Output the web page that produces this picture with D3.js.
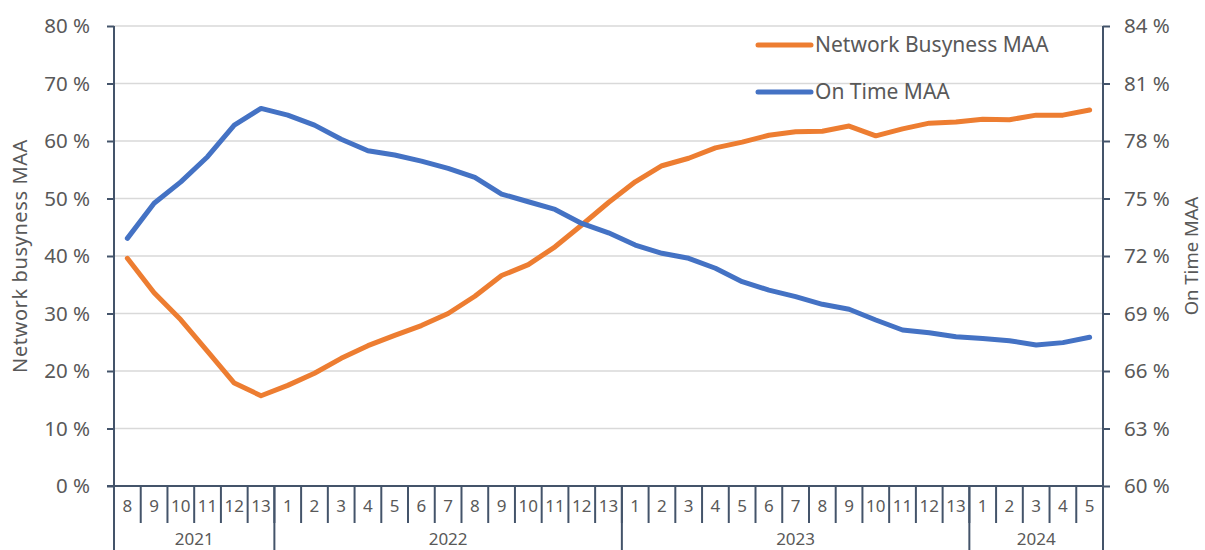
<!DOCTYPE html>
<html>
<head>
<meta charset="utf-8">
<script src="https://cdn.jsdelivr.net/npm/d3@7"></script>
<style>
  body { margin: 0; background: #fff; }
  svg text { font-family: "Noto Sans", "Open Sans", sans-serif; fill: #595959; }
</style>
</head>
<body>
<div id="chart"></div>
<script>
// periods (rail periods 1-13) and years
var periods = ["8","9","10","11","12","13",
  "1","2","3","4","5","6","7","8","9","10","11","12","13",
  "1","2","3","4","5","6","7","8","9","10","11","12","13",
  "1","2","3","4","5"];
var years = ["2021", "2022", "2023", "2024"];
var yearCounts = [6, 13, 13, 5];

// Network busyness MAA (%), left axis
var busyness = [39.6, 33.6, 28.9, 23.4, 17.9, 15.7,
  17.5, 19.6, 22.2, 24.4, 26.2, 27.9, 30.0, 33.0, 36.6, 38.5, 41.6, 45.4, 49.3,
  52.9, 55.7, 57.0, 58.8, 59.8, 61.0, 61.6, 61.7, 62.6, 60.9, 62.1, 63.1, 63.3,
  63.8, 63.7, 64.5, 64.5, 65.4];
// On Time MAA (%), right axis
var onTime = [72.92, 74.75, 75.87, 77.18, 78.83, 79.70,
  79.35, 78.83, 78.09, 77.49, 77.27, 76.95, 76.57, 76.10, 75.23, 74.83, 74.43, 73.70, 73.21,
  72.57, 72.14, 71.88, 71.36, 70.66, 70.22, 69.88, 69.48, 69.22, 68.66, 68.14, 68.00, 67.79,
  67.70, 67.58, 67.36, 67.48, 67.76];

var leftTicks = [0, 10, 20, 30, 40, 50, 60, 70, 80];
var rightTicks = [60, 63, 66, 69, 72, 75, 78, 81, 84];

var W = 1205, H = 550;
var margin = { top: 26, right: 102, bottom: 64, left: 114 };
var x0 = margin.left, x1 = W - margin.right, y0 = H - margin.bottom, y1 = margin.top;
var axisColor = "#44546A";

var svg = d3.select("#chart").append("svg").attr("width", W).attr("height", H);

var idx = d3.range(periods.length);
var x = d3.scaleBand().domain(idx).range([x0, x1]).padding(0);
var yL = d3.scaleLinear().domain([0, 80]).range([y0, y1]);
var yR = d3.scaleLinear().domain([60, 84]).range([y0, y1]);

// gridlines
svg.append("g").selectAll("line").data(leftTicks.slice(1)).enter().append("line")
  .attr("x1", x0).attr("x2", x1)
  .attr("y1", function (d) { return yL(d); }).attr("y2", function (d) { return yL(d); })
  .style("stroke", "#d9d9d9").style("stroke-width", 1.5);

// left axis
var gL = svg.append("g").attr("transform", "translate(" + x0 + ",0)")
  .call(d3.axisLeft(yL).tickValues(leftTicks).tickSize(7).tickPadding(17)
    .tickFormat(function (d) { return d + " %"; }));
gL.select(".domain").remove();
gL.selectAll(".tick line").style("stroke", axisColor).style("stroke-width", 2);
gL.selectAll("text").style("font-size", "20.5px").style("fill", "#595959");
svg.append("line").attr("x1", x0).attr("x2", x0).attr("y1", y1).attr("y2", H)
  .style("stroke", axisColor).style("stroke-width", 2);

// right axis
var gR = svg.append("g").attr("transform", "translate(" + x1 + ",0)")
  .call(d3.axisRight(yR).tickValues(rightTicks).tickSize(7).tickPadding(14)
    .tickFormat(function (d) { return d + " %"; }));
gR.select(".domain").remove();
gR.selectAll(".tick line").style("stroke", axisColor).style("stroke-width", 2);
gR.selectAll("text").style("font-size", "20.5px").style("fill", "#595959");
svg.append("line").attr("x1", x1).attr("x2", x1).attr("y1", y1).attr("y2", H)
  .style("stroke", axisColor).style("stroke-width", 2);

// bottom axis line
svg.append("line").attr("x1", x0 - 7).attr("x2", x1).attr("y1", y0).attr("y2", y0)
  .style("stroke", axisColor).style("stroke-width", 2);

// period separators and labels
svg.append("g").selectAll("line").data(idx.slice(1)).enter().append("line")
  .attr("x1", function (d) { return x(d); }).attr("x2", function (d) { return x(d); })
  .attr("y1", y0).attr("y2", y0 + 37)
  .style("stroke", axisColor).style("stroke-width", 2);

svg.append("g").selectAll("text").data(idx).enter().append("text")
  .attr("x", function (d) { return x(d) + x.bandwidth() / 2; })
  .attr("y", y0 + 26)
  .attr("text-anchor", "middle")
  .style("font-size", "17px")
  .text(function (d) { return periods[d]; });

// year groups
var starts = [];
var acc = 0;
yearCounts.forEach(function (c) { starts.push(acc); acc += c; });
svg.append("g").selectAll("line").data(starts.slice(1)).enter().append("line")
  .attr("x1", function (d) { return x(d); }).attr("x2", function (d) { return x(d); })
  .attr("y1", y0).attr("y2", H)
  .style("stroke", axisColor).style("stroke-width", 2);
svg.append("g").selectAll("text").data(years).enter().append("text")
  .attr("x", function (d, i) {
    return (x(starts[i]) + x(starts[i] + yearCounts[i] - 1) + x.bandwidth()) / 2;
  })
  .attr("y", H - 5)
  .attr("text-anchor", "middle")
  .style("font-size", "17px")
  .text(function (d) { return d; });

// axis titles
svg.append("text")
  .attr("transform", "translate(27," + ((y0 + y1) / 2) + ") rotate(-90)")
  .attr("text-anchor", "middle")
  .style("font-size", "20px")
  .style("letter-spacing", "0.6px")
  .text("Network busyness MAA");
svg.append("text")
  .attr("transform", "translate(1198," + ((y0 + y1) / 2) + ") rotate(-90)")
  .attr("text-anchor", "middle")
  .style("font-size", "18.5px")
  .text("On Time MAA");

// lines
var cx = function (i) { return x(i) + x.bandwidth() / 2; };
var lineL = d3.line().x(function (d, i) { return cx(i); }).y(function (d) { return yL(d); });
var lineR = d3.line().x(function (d, i) { return cx(i); }).y(function (d) { return yR(d); });

svg.append("path").datum(busyness).attr("d", lineL)
  .style("fill", "none").style("stroke", "#ED7D31").style("stroke-width", 5)
  .style("stroke-linecap", "round").style("stroke-linejoin", "round");
svg.append("path").datum(onTime).attr("d", lineR)
  .style("fill", "none").style("stroke", "#4472C4").style("stroke-width", 5)
  .style("stroke-linecap", "round").style("stroke-linejoin", "round");

// legend
var legend = [["Network Busyness MAA", "#ED7D31"], ["On Time MAA", "#4472C4"]];
var lg = svg.append("g").selectAll("g").data(legend).enter().append("g")
  .attr("transform", function (d, i) { return "translate(758," + (45 + i * 47) + ")"; });
lg.append("line").attr("x1", 0).attr("x2", 53).attr("y1", 0).attr("y2", 0)
  .style("stroke", function (d) { return d[1]; }).style("stroke-width", 5)
  .style("stroke-linecap", "round");
lg.append("text").attr("x", 57).attr("y", 7)
  .style("font-size", "21px")
  .text(function (d) { return d[0]; });
</script>
</body>
</html>
